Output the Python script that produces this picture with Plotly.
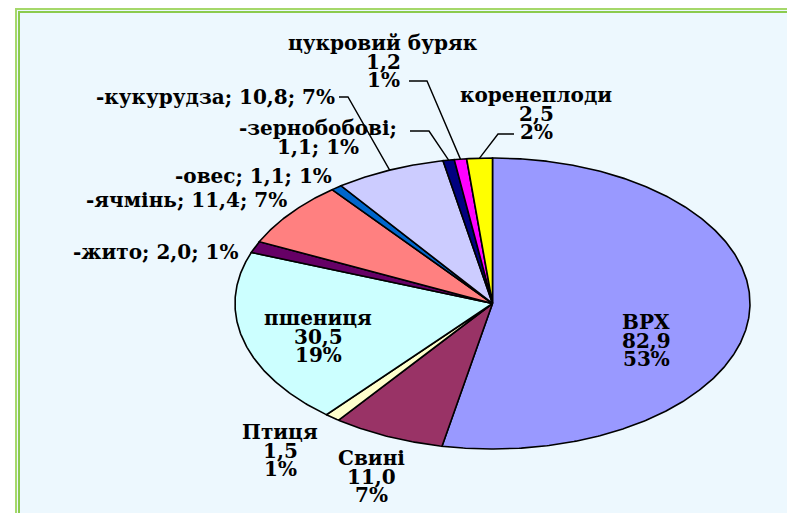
import numpy as np
import plotly.graph_objects as go

# ---- data (clockwise from 12 o'clock) ----
names = ["ВРХ", "Свині", "Птиця", "пшениця", "жито", "ячмінь", "овес",
         "кукурудза", "зернобобові", "цукровий буряк", "коренеплоди"]
values = [82.9, 11.0, 1.5, 30.5, 2.0, 11.4, 1.1, 10.8, 1.1, 1.2, 2.5]
percents = [53, 7, 1, 19, 1, 7, 1, 7, 1, 1, 2]
colors = ["#9999FF", "#993366", "#FFFFCC", "#CCFFFF", "#660066", "#FF8080",
          "#0066CC", "#CCCCFF", "#000080", "#FF00FF", "#FFFF00"]

# ---- layout parameters ----
W, H = 787, 513
CX, CY, RA, RB = 492.5, 303.5, 257.5, 145.5
FONT = "DejaVu Serif"
FS = 20
LINE_H = 18.5

# label style and placement: (style, x, y of first line, xanchor)
label_pos = {
    "ВРХ": ("stack", 646, 322, "center"),
    "Свині": ("stack", 371, 458, "center"),
    "Птиця": ("stack", 280, 432, "center"),
    "пшениця": ("stack", 318, 318, "center"),
    "жито": ("line", 240, 252, "right"),
    "ячмінь": ("line", 289, 200, "right"),
    "овес": ("line", 334, 176, "right"),
    "кукурудза": ("line", 337, 97, "right"),
    "зернобобові": ("two", 318, 128, "center"),
    "цукровий буряк": ("stack", 383, 43, "center"),
    "коренеплоди": ("stack", 536, 95, "center"),
}
# leader line start points (label side) for slices that have them
leader_pos = {
    "кукурудза": [(339, 97), (348, 97)],
    "зернобобові": [(410, 131), (429, 131)],
    "цукровий буряк": [(409, 81), (427, 81)],
    "коренеплоди": [(514, 134), (498, 134)],
}

def fmt(v):
    return f"{v:.1f}".replace(".", ",")

def ell(theta):
    return CX + RA * np.sin(theta), CY - RB * np.cos(theta)

fig = go.Figure()

total = sum(values)
cum = np.concatenate([[0], np.cumsum(values)]) / total * 2 * np.pi
mids = {}
for i, (n, c) in enumerate(zip(names, colors)):
    t0, t1 = cum[i], cum[i + 1]
    ts = np.linspace(t0, t1, max(8, int((t1 - t0) * 120)))
    xs, ys = ell(ts)
    px = np.concatenate([[CX], xs, [CX]])
    py = np.concatenate([[CY], ys, [CY]])
    fig.add_trace(go.Scatter(x=px, y=py, mode="lines", fill="toself",
                             fillcolor=c, line=dict(color="black", width=1.6),
                             hoverinfo="skip", showlegend=False))
    mids[n] = ell((t0 + t1) / 2)

# leader lines
for n, pts in leader_pos.items():
    mx, my = mids[n]
    xs = [p[0] for p in pts] + [mx]
    ys = [p[1] for p in pts] + [my]
    fig.add_trace(go.Scatter(x=xs, y=ys, mode="lines",
                             line=dict(color="black", width=1.4),
                             hoverinfo="skip", showlegend=False))

annotations = []
for n, v, p in zip(names, values, percents):
    style, x, y, anchor = label_pos[n]
    if style == "stack":
        lines = [n, fmt(v), f"{p}%"]
    elif style == "two":
        lines = [f"-{n};", f"{fmt(v)}; {p}%"]
    else:
        lines = [f"-{n}; {fmt(v)}; {p}%"]
    for k, t in enumerate(lines):
        annotations.append(dict(
            x=x, y=y + k * LINE_H, xref="x", yref="y", text=f"<b>{t}</b>",
            showarrow=False, xanchor=anchor, yanchor="middle",
            font=dict(family=FONT, size=FS, color="black")))

# frame: light background with a double green line along top and left edges
shapes = [
    dict(type="rect", xref="x", yref="y", x0=0, y0=0, x1=W, y1=8,
         fillcolor="white", line=dict(width=0), layer="below"),
    dict(type="rect", xref="x", yref="y", x0=0, y0=0, x1=15, y1=H,
         fillcolor="white", line=dict(width=0), layer="below"),
    dict(type="line", xref="x", yref="y", x0=15, y0=9, x1=W, y1=9,
         line=dict(color="#A5D86A", width=2), layer="below"),
    dict(type="line", xref="x", yref="y", x0=16, y0=8, x1=16, y1=H,
         line=dict(color="#A5D86A", width=2), layer="below"),
    dict(type="line", xref="x", yref="y", x0=18, y0=12, x1=W, y1=12,
         line=dict(color="#8CCB4E", width=2), layer="below"),
    dict(type="line", xref="x", yref="y", x0=19, y0=11, x1=19, y1=H,
         line=dict(color="#8CCB4E", width=2), layer="below"),
]

fig.update_layout(
    width=W, height=H, margin=dict(l=0, r=0, t=0, b=0),
    paper_bgcolor="#EDF8FE", plot_bgcolor="#EDF8FE",
    xaxis=dict(range=[0, W], visible=False, fixedrange=True),
    yaxis=dict(range=[H, 0], visible=False, fixedrange=True),
    annotations=annotations, shapes=shapes, showlegend=False,
)
fig.write_html(
    "out.html",
    config={"displayModeBar": False},
    post_script="document.body.style.margin='0';document.body.style.overflow='hidden';",
)
